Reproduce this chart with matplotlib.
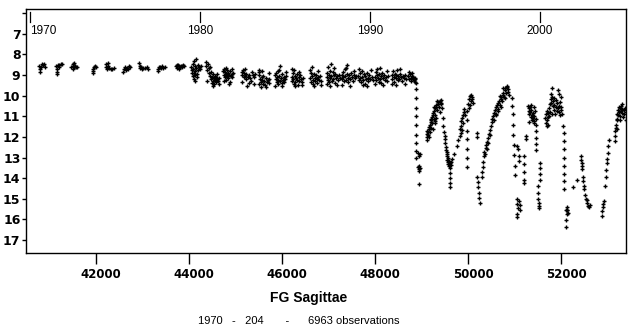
import matplotlib
matplotlib.use("Agg")
import matplotlib.pyplot as plt
import matplotlib.transforms as mtransforms
import numpy as np

# (JD - 2400000, visual magnitude)
seasons_1970s = [
    (40785, 8.55), (40790, 8.72), (40795, 8.85), (40810, 8.62), (40830, 8.45), (40850, 8.50), (40880, 8.48), (40905, 8.60),
    (41150, 8.55), (41155, 8.70), (41158, 8.85), (41160, 8.95), (41185, 8.52), (41210, 8.50), (41240, 8.48), (41265, 8.45), (41200, 8.60),
    (41470, 8.60), (41500, 8.55), (41510, 8.45), (41515, 8.70), (41530, 8.62), (41550, 8.58), (41570, 8.62), (41600, 8.60), (41535, 8.40),
    (41935, 8.80), (41940, 8.88), (41945, 8.70), (41955, 8.60), (41970, 8.55), (41990, 8.62),
    (42220, 8.45), (42225, 8.60), (42230, 8.72), (42250, 8.40), (42265, 8.55), (42290, 8.65), (42320, 8.70), (42350, 8.72), (42380, 8.68),
    (42580, 8.85), (42600, 8.70), (42620, 8.60), (42640, 8.75), (42660, 8.65), (42690, 8.72), (42720, 8.58), (42740, 8.62),
    (42935, 8.40), (42945, 8.55), (42950, 8.65), (42970, 8.62), (42990, 8.70), (43020, 8.65), (43050, 8.68), (43090, 8.62), (43110, 8.70),
    (43330, 8.82), (43340, 8.70), (43360, 8.62), (43385, 8.60), (43400, 8.65), (43420, 8.58), (43450, 8.66), (43480, 8.60),
    (43725, 8.55), (43740, 8.50), (43760, 8.52), (43780, 8.58), (43800, 8.60), (43820, 8.55), (43840, 8.62), (43860, 8.58),
    (43880, 8.50), (43895, 8.55), (43790, 8.70), (43750, 8.65),
    (44050, 8.60), (44060, 8.75), (44070, 8.90), (44080, 9.05), (44085, 8.45), (44095, 8.70), (44100, 8.90), (44110, 9.20),
    (44115, 8.30), (44120, 8.55), (44130, 8.80), (44140, 9.00), (44150, 8.20), (44155, 8.65), (44165, 8.95), (44175, 9.10),
    (44185, 8.50), (44200, 8.75), (44220, 8.60), (44240, 8.70), (44255, 8.55), (44135, 9.30),
]

seasons_1980s = [
    (44370, 8.35), (44375, 8.55), (44385, 8.75), (44400, 8.45), (44420, 8.65), (44440, 8.90), (44460, 9.05), (44470, 9.20),
    (44480, 8.85), (44490, 9.40), (44500, 9.10), (44510, 9.30), (44520, 8.95), (44530, 9.15), (44540, 9.45), (44550, 9.05),
    (44560, 9.25), (44575, 9.35), (44590, 9.10), (44610, 9.20), (44630, 9.30), (44650, 9.15),
    (44395, 9.30), (44455, 8.60), (44525, 9.55), (44600, 8.95), (44640, 9.45),
    (44740, 8.80), (44750, 9.00), (44760, 8.70), (44770, 9.10), (44780, 8.85), (44790, 9.25), (44800, 8.95), (44810, 8.75),
    (44820, 9.05), (44830, 9.15), (44845, 8.90), (44860, 9.00), (44875, 8.80), (44890, 9.35), (44900, 9.05), (44915, 8.95),
    (44930, 9.10), (44950, 8.90), (44745, 9.30), (44805, 8.65), (44855, 9.45), (44925, 8.70),
    (45135, 8.85), (45150, 9.00), (45160, 8.75), (45175, 9.10), (45190, 8.90), (45205, 9.05), (45220, 9.20), (45230, 8.95),
    (45250, 9.55), (45270, 9.10), (45290, 9.00), (45310, 9.15), (45340, 9.30), (45360, 8.85), (45380, 9.00), (45400, 9.10), (45415, 8.95),
    (45140, 9.35), (45200, 8.70), (45280, 9.40), (45395, 9.45),
    (45495, 8.75), (45505, 9.00), (45515, 8.85), (45525, 9.20), (45540, 9.35), (45550, 9.60), (45560, 9.10), (45575, 9.25),
    (45590, 9.45), (45600, 9.05), (45615, 9.30), (45630, 9.50), (45650, 9.15), (45670, 9.35), (45690, 9.25), (45710, 9.40), (45730, 9.20),
    (45500, 9.45), (45580, 8.80), (45660, 9.60), (45720, 8.90),
    (45855, 9.00), (45865, 9.20), (45875, 8.90), (45885, 9.35), (45895, 9.10), (45905, 8.80), (45915, 9.25), (45925, 9.45),
    (45940, 9.05), (45950, 8.55), (45960, 9.30), (45975, 9.15), (45990, 9.40), (46005, 8.95), (46020, 9.25), (46035, 9.10),
    (46050, 9.35), (46070, 9.20), (46090, 9.05), (45860, 9.55), (45930, 8.75), (46000, 9.55), (46080, 8.85),
    (46210, 9.10), (46220, 9.30), (46230, 8.90), (46245, 9.20), (46255, 9.45), (46265, 8.75), (46275, 9.05), (46290, 9.35),
    (46300, 9.15), (46315, 8.95), (46330, 9.25), (46345, 9.50), (46360, 9.10), (46375, 9.30), (46390, 9.00), (46410, 9.20),
    (46430, 9.35), (46450, 9.15), (46215, 8.70), (46285, 9.55), (46370, 8.85), (46440, 9.50),
    (46605, 9.15), (46615, 9.35), (46625, 8.90), (46640, 9.05), (46650, 8.60), (46660, 9.25), (46675, 9.45), (46690, 8.95),
    (46700, 9.15), (46715, 9.30), (46730, 9.00), (46745, 9.20), (46760, 9.40), (46780, 9.10), (46800, 9.25), (46820, 9.05), (46840, 9.30),
    (46610, 8.75), (46695, 9.55), (46770, 8.80), (46835, 9.50),
    (46965, 9.10), (46975, 8.90), (46985, 9.25), (46995, 8.60), (47005, 9.00), (47015, 9.35), (47025, 8.80), (47040, 9.15),
    (47050, 8.45), (47060, 9.05), (47075, 9.30), (47090, 8.85), (47100, 9.20), (47115, 9.00), (47130, 9.40), (47145, 8.95),
    (47160, 9.15), (47180, 9.05), (47200, 9.25), (47220, 9.00), (47240, 9.15),
    (46970, 9.45), (47035, 9.55), (47110, 8.65), (47190, 9.50),
    (47290, 9.00), (47300, 9.20), (47310, 8.85), (47320, 9.10), (47335, 9.30), (47345, 8.70), (47360, 9.05), (47375, 9.25),
    (47390, 8.95), (47400, 8.50), (47415, 9.15), (47430, 9.35), (47445, 9.00), (47460, 9.20), (47480, 8.90), (47500, 9.10),
    (47520, 9.30), (47545, 9.00), (47570, 9.15), (47600, 9.05), (47295, 9.50), (47370, 8.65), (47455, 9.55), (47540, 8.80),
    (47645, 9.05), (47660, 9.25), (47670, 8.90), (47685, 9.15), (47700, 9.35), (47715, 8.80), (47730, 9.10), (47745, 9.25),
    (47760, 8.95), (47775, 9.45), (47790, 9.05), (47805, 9.20), (47820, 8.90), (47840, 9.15), (47860, 9.30), (47880, 9.00),
    (47900, 9.20), (47925, 9.10), (47950, 9.25), (47650, 8.70), (47735, 9.50), (47830, 9.55), (47910, 8.75),
    (48005, 9.10), (48015, 8.85), (48025, 9.25), (48040, 9.00), (48050, 8.70), (48065, 9.15), (48080, 9.35), (48095, 8.95),
    (48110, 9.20), (48125, 9.05), (48140, 9.40), (48155, 8.90), (48170, 9.15), (48190, 9.00), (48210, 9.25), (48230, 9.10),
    (48255, 9.30), (48280, 9.05), (48010, 9.45), (48100, 8.65), (48180, 9.50), (48265, 8.80),
    (48360, 9.00), (48375, 9.20), (48385, 8.80), (48400, 9.10), (48415, 9.35), (48430, 8.95), (48445, 9.15), (48460, 9.00),
    (48475, 8.75), (48490, 9.25), (48505, 9.05), (48520, 9.20), (48540, 8.95), (48560, 9.10), (48580, 9.30), (48600, 9.05),
    (48625, 9.15), (48650, 9.00), (48675, 9.20), (48365, 9.45), (48455, 9.50), (48545, 8.70), (48640, 9.45),
    (48720, 9.05), (48735, 9.20), (48750, 8.95), (48765, 9.15), (48780, 9.30), (48795, 9.05), (48810, 9.20), (48825, 9.10),
    (48840, 9.25), (48855, 9.15), (48870, 9.20), (48725, 8.85), (48800, 8.90), (48860, 9.35),
]

# after the 1992 fade: deep declines and recoveries
seasons_1990s = [
    (48882, 9.40), (48882, 9.70), (48884, 10.10), (48884, 10.60), (48885, 11.00), (48886, 11.40), (48886, 11.90),
    (48887, 12.30), (48888, 12.70), (48890, 13.00), (48935, 12.80), (48945, 12.95), (48965, 12.85), (48935, 13.45),
    (48945, 13.55), (48955, 13.65), (48960, 13.50), (48950, 13.40), (48954, 14.28),
    (49110, 12.15), (49115, 11.85), (49125, 12.00), (49135, 11.75), (49145, 11.90), (49155, 11.60), (49165, 11.50),
    (49175, 11.75), (49185, 11.40), (49195, 11.30), (49205, 11.55), (49215, 11.20), (49225, 11.05), (49235, 11.35),
    (49245, 10.95), (49255, 10.85), (49265, 11.15), (49275, 10.75), (49285, 10.60), (49295, 10.95), (49305, 10.55),
    (49320, 10.45), (49335, 10.70), (49350, 10.40), (49365, 10.30), (49380, 10.55), (49395, 10.25), (49410, 10.40),
    (49425, 10.35), (49440, 10.60), (49470, 11.10), (49472, 11.45), (49474, 11.75), (49320, 11.10), (49280, 11.35),
    (49120, 11.70), (49160, 12.00), (49200, 11.15), (49240, 11.60), (49270, 10.55), (49300, 11.25), (49340, 10.25),
    (49390, 10.80), (49430, 10.20),
    (49506, 11.95), (49510, 12.10), (49515, 12.30), (49520, 12.50), (49525, 12.65), (49540, 12.75), (49545, 12.95),
    (49550, 13.10), (49555, 12.85), (49560, 13.20), (49570, 13.00), (49575, 13.30), (49585, 13.15), (49595, 13.40),
    (49605, 13.25), (49615, 13.50), (49625, 13.35), (49640, 13.20), (49650, 13.05), (49614, 13.75), (49616, 14.00),
    (49618, 14.25), (49620, 14.45),
    (49700, 12.85), (49760, 12.45), (49790, 12.15), (49820, 11.95), (49830, 11.60), (49840, 11.80), (49850, 11.45),
    (49860, 11.25), (49865, 11.65), (49875, 11.10), (49885, 10.95), (49895, 11.35), (49905, 10.80), (49915, 10.65),
    (49925, 10.95), (49972, 10.75), (49972, 11.20), (49974, 11.70), (49975, 12.10), (49976, 12.60), (49977, 13.00),
    (49978, 13.45), (50010, 10.40), (50020, 10.60), (50030, 10.15), (50040, 10.45), (50050, 10.00), (50060, 10.25),
    (50070, 9.95), (50080, 10.15), (50090, 10.05), (50115, 10.35), (50187, 11.80), (50190, 12.00),
    (50200, 13.95), (50210, 14.20), (50220, 14.45), (50230, 14.70), (50240, 14.95), (50255, 15.20),
    (50295, 13.95), (50305, 13.70), (50315, 13.45), (50330, 13.20), (50345, 12.95), (50355, 12.75), (50370, 12.85),
    (50380, 12.55), (50395, 12.40), (50405, 12.60), (50415, 12.25), (50430, 12.05), (50440, 12.30), (50455, 11.85),
    (50470, 11.65), (50480, 11.90), (50495, 11.45), (50510, 11.30), (50525, 11.15), (50540, 11.00), (50550, 11.20),
    (50565, 10.85), (50580, 10.70), (50595, 10.90), (50610, 10.55), (50625, 10.45), (50640, 10.65), (50655, 10.35),
    (50670, 10.25), (50685, 10.45), (50700, 10.15), (50715, 10.05), (50730, 10.25), (50745, 9.95), (50760, 9.85),
    (50775, 10.05), (50790, 9.75), (50805, 9.65), (50820, 9.85), (50835, 9.60), (50850, 9.70), (50865, 9.80), (50880, 9.95),
    (50600, 10.95), (50650, 10.75), (50690, 10.00), (50720, 10.55), (50760, 9.65), (50800, 10.10), (50840, 9.55),
]

seasons_2000s = [
    (50950, 10.10), (50955, 10.50), (50962, 10.90), (50968, 11.40), (50975, 11.90), (50985, 12.40), (50995, 12.90),
    (51005, 13.40), (51012, 13.85), (51050, 12.45), (51080, 12.60), (51100, 12.95), (51090, 13.15),
    (51048, 15.00), (51060, 15.25), (51075, 15.45), (51100, 15.10), (51110, 15.30), (51120, 15.55), (51048, 15.75), (51060, 15.90),
    (51205, 12.95), (51205, 13.30), (51207, 13.70), (51208, 14.10), (51210, 14.25), (51248, 11.98), (51245, 12.10),
    (51300, 10.50), (51305, 10.75), (51310, 10.60), (51320, 10.90), (51330, 10.55), (51340, 10.80), (51350, 11.05),
    (51360, 10.70), (51370, 10.95), (51380, 11.20), (51390, 10.85), (51400, 11.10), (51410, 11.35), (51420, 11.00),
    (51430, 11.25), (51440, 10.75), (51455, 11.15), (51470, 11.40), (51320, 11.30), (51360, 10.45), (51420, 10.55),
    (51465, 11.70), (51467, 12.05), (51470, 12.35), (51472, 12.65),
    (51514, 14.40), (51515, 14.70), (51516, 15.00), (51517, 15.20), (51518, 15.35), (51520, 15.45),
    (51545, 13.25), (51547, 13.50), (51550, 13.80), (51552, 14.10),
    (51660, 11.10), (51670, 11.35), (51680, 10.90), (51690, 11.20), (51700, 10.75), (51710, 11.05), (51720, 11.40),
    (51730, 10.85), (51745, 10.60), (51760, 10.40), (51770, 10.80), (51780, 10.15), (51790, 9.90), (51795, 10.35),
    (51800, 9.65), (51810, 10.05), (51820, 10.50), (51830, 10.25), (51845, 10.70), (51860, 10.45), (51875, 10.90),
    (51890, 10.55), (51905, 10.75), (51920, 10.35), (51935, 10.60), (51950, 10.80), (51965, 10.50), (51980, 10.30),
    (51995, 10.70), (52010, 10.55), (52030, 10.90), (51925, 9.75), (51960, 9.90), (51990, 10.05),
    (51700, 11.45), (51750, 11.00), (51800, 10.90), (51850, 10.10), (51900, 10.20), (51970, 10.95),
    (52051, 11.45), (52055, 11.80), (52060, 12.20), (52062, 12.60), (52065, 13.00), (52068, 13.40), (52070, 13.80),
    (52072, 14.15), (52075, 14.55),
    (52120, 15.40), (52125, 15.55), (52110, 15.55), (52135, 15.55), (52130, 15.75), (52150, 15.70), (52115, 16.05), (52118, 16.35),
    (52260, 14.45), (52335, 14.10), (52420, 13.10), (52440, 12.95), (52445, 13.25), (52450, 13.40), (52455, 13.55),
    (52465, 13.95), (52480, 14.15), (52490, 14.40), (52500, 14.55), (52510, 14.80), (52530, 15.00), (52550, 15.20),
    (52560, 15.05), (52575, 15.35), (52600, 15.40), (52625, 15.30),
    (52876, 15.85), (52880, 15.60), (52900, 15.40), (52912, 15.25), (52925, 15.10), (52945, 14.40), (52960, 13.95),
    (52975, 13.60), (52985, 13.25), (52990, 13.05), (53010, 12.80), (53020, 12.45), (53035, 12.15),
    (53160, 12.20), (53165, 11.95), (53170, 11.70), (53180, 11.40), (53190, 11.55), (53195, 11.15), (53205, 10.90),
    (53215, 11.20), (53225, 10.70), (53235, 10.95), (53245, 10.55), (53255, 10.80), (53265, 10.60), (53275, 11.00),
    (53285, 10.75), (53295, 10.50), (53305, 10.85), (53320, 10.65), (53335, 11.05), (53350, 10.70), (53365, 10.90),
    (53380, 10.60), (53395, 10.80), (53200, 11.60), (53260, 11.20), (53320, 10.40), (53390, 11.20),
]

years = [1970, 1980, 1990, 2000]
jd_ticks = [42000, 44000, 46000, 48000, 50000, 52000]
mag_ticks = [6, 7, 8, 9, 10, 11, 12, 13, 14, 15, 16, 17]


def year_to_jd(y):
    # JD 2440587.5 = 1970 Jan 1
    return 40587.5 + (y - 1970) * 365.25


fig = plt.figure(figsize=(6.4, 3.32), dpi=100)
ax = fig.add_axes([26 / 640, 79 / 332, 600 / 640, 244 / 332])

for block in (seasons_1970s, seasons_1980s, seasons_1990s, seasons_2000s):
    pts = np.array(block)
    ax.plot(pts[:, 0], pts[:, 1], linestyle='none', marker='+', markersize=3.2,
            markeredgewidth=1.0, color='black')

ax.set_xlim(40495, 53398)
ax.set_ylim(17.63, 5.8)

for s in ax.spines.values():
    s.set_linewidth(1.0)
    s.set_color('black')

ax.set_xticks(jd_ticks)
ax.set_xticklabels([str(v) for v in jd_ticks], fontweight='bold', fontsize=8.5)
ax.tick_params(axis='x', direction='out', length=8, width=1, pad=3)
shift = mtransforms.ScaledTranslation(5 / 100, 0, fig.dpi_scale_trans)
for lab in ax.get_xticklabels():
    lab.set_transform(lab.get_transform() + shift)

ax.set_yticks(mag_ticks)
ax.set_yticklabels(['' if m == 6 else str(m) for m in mag_ticks], fontweight='bold', fontsize=9)
ax.tick_params(axis='y', direction='out', length=3, width=1, pad=1)

# calendar years hanging from the top frame
trans = mtransforms.blended_transform_factory(ax.transData, ax.transAxes)
for y in years:
    x = year_to_jd(y)
    ax.plot([x, x], [0.988, 0.945], color='black', lw=0.9, transform=trans, clip_on=False)
    ax.text(x, 0.935, str(y), transform=trans, ha='left' if y == 1970 else 'center', va='top',
            fontsize=8.5, family='Liberation Sans')

fig.text(309 / 640, 1 - 298 / 332, 'FG Sagittae', ha='center', va='center',
         fontsize=10, fontweight='bold', family='Liberation Sans')
fig.text(198 / 640, 1 - 321 / 332, '1970   -   204       -      6963 observations', ha='left', va='center',
         fontsize=8, family='Liberation Sans')

fig.savefig('out.png', dpi=100, facecolor='white')
